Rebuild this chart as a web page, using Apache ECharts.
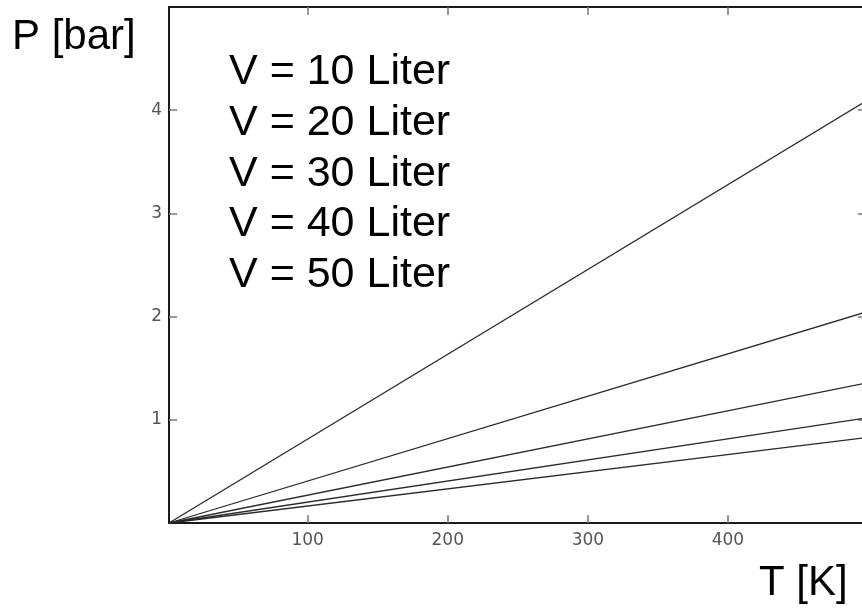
<!DOCTYPE html>
<html>
<head>
<meta charset="utf-8">
<title>P-T Diagramm</title>
<script src="https://cdn.jsdelivr.net/npm/echarts@6/dist/echarts.min.js"></script>
<style>
  html, body { margin: 0; padding: 0; background: #fff; }
  #main { width: 862px; height: 614px; }
</style>
</head>
<body>
<div id="main"></div>
<script>
// Werte
const temps = [1, 500];
const volumes = [10, 20, 30, 40, 50];
const p10 = [0, 4.1];
const p20 = [0, 2.05];
const p30 = [0, 1.36];
const p40 = [0, 1.02];
const p50 = [0, 0.83];
const xTicks = [100, 200, 300, 400];
const yTicks = [1, 2, 3, 4];

const pressures = [p10, p20, p30, p40, p50];

// das Bild ist rechts abgeschnitten, sichtbar nur bis ca. T = 495.7
const xMin = 1;
const xMax = 495.7;

const chart = echarts.init(document.getElementById('main'));

const axisLine = { show: true, onZero: false, lineStyle: { color: '#1a1a1a', width: 2 } };
const tickStyle = { color: '#777', width: 1.5 };
const labelFont = { color: '#555', fontSize: 17, fontFamily: 'DejaVu Sans' };
const bigFont = '"Liberation Sans", Arial, sans-serif';

// Beschriftung "V = .. Liter" als Text
const volTexts = volumes.map((v, i) => ({
  type: 'text',
  left: 229,
  top: 51 + i * 50.7,
  style: {
    text: 'V = ' + v + ' Liter',
    font: '43px ' + bigFont,
    fill: '#000'
  }
}));

chart.setOption({
  animation: false,
  backgroundColor: '#fff',
  grid: { left: 169, top: 7, right: 0, bottom: 91 },
  xAxis: [
    {
      type: 'value',
      min: xMin,
      max: xMax,
      position: 'bottom',
      axisLine: axisLine,
      axisTick: { inside: true, length: 8, lineStyle: tickStyle, customValues: xTicks },
      axisLabel: Object.assign({ margin: 9, customValues: xTicks }, labelFont),
      splitLine: { show: false }
    },
    {
      type: 'value',
      min: xMin,
      max: xMax,
      position: 'top',
      axisLine: axisLine,
      axisTick: { inside: true, length: 8, lineStyle: tickStyle, customValues: xTicks },
      axisLabel: { show: false },
      splitLine: { show: false }
    }
  ],
  yAxis: [
    {
      type: 'value',
      min: 0,
      max: 5,
      position: 'left',
      axisLine: axisLine,
      axisTick: { inside: true, length: 8, lineStyle: tickStyle, customValues: yTicks },
      axisLabel: Object.assign({ margin: 7, customValues: yTicks }, labelFont),
      splitLine: { show: false }
    },
    {
      type: 'value',
      min: 0,
      max: 5,
      position: 'right',
      axisLine: { show: false },
      axisTick: { inside: true, length: 4, lineStyle: tickStyle, customValues: yTicks },
      axisLabel: { show: false },
      splitLine: { show: false }
    }
  ],
  graphic: [
    {
      type: 'text',
      left: 12,
      top: 16,
      style: { text: 'P [bar]', font: '42px ' + bigFont, fill: '#000' }
    },
    {
      type: 'text',
      left: 759,
      top: 562,
      style: { text: 'T [K]', font: '42px ' + bigFont, fill: '#000' }
    }
  ].concat(volTexts),
  series: pressures.map((p, i) => ({
    name: 'V = ' + volumes[i] + ' Liter',
    type: 'line',
    showSymbol: false,
    lineStyle: { color: '#2a2a2a', width: 1.3 },
    data: temps.map((t, j) => [t, p[j]])
  }))
});
</script>
</body>
</html>
